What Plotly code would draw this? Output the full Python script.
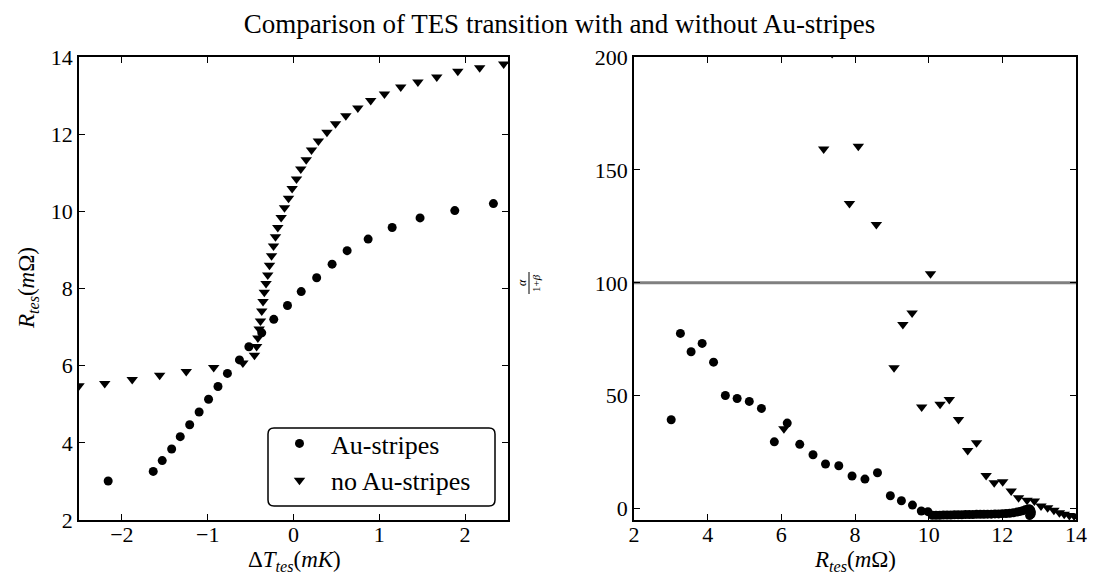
import plotly.graph_objects as go

# ---- Left panel: R_tes vs Delta T ----
au_dT = [-2.16, -1.635, -1.53, -1.42, -1.32, -1.21, -1.10, -0.99, -0.88, -0.77, -0.63, -0.52,
         -0.37, -0.23, -0.07, 0.09, 0.27, 0.45, 0.625, 0.87, 1.15, 1.475, 1.88, 2.33]
au_R = [3.01, 3.26, 3.54, 3.84, 4.16, 4.47, 4.80, 5.13, 5.46, 5.80, 6.15, 6.49,
        6.85, 7.20, 7.56, 7.92, 8.28, 8.63, 8.98, 9.28, 9.58, 9.83, 10.02, 10.20]

no_dT = [-2.5, -2.20, -1.88, -1.56, -1.25, -0.93, -0.59, -0.455, -0.43, -0.415, -0.40, -0.385,
         -0.37, -0.355, -0.34, -0.32, -0.30, -0.28, -0.256, -0.233, -0.21, -0.183, -0.144,
         -0.105, -0.058, -0.016, 0.035, 0.085, 0.148, 0.21, 0.29, 0.39, 0.49, 0.61, 0.75,
         0.90, 1.06, 1.25, 1.45, 1.67, 1.915, 2.17, 2.45]
no_R = [5.48, 5.54, 5.64, 5.75, 5.85, 5.95, 6.07, 6.27, 6.50, 6.72, 6.95, 7.16,
        7.42, 7.66, 7.90, 8.13, 8.35, 8.60, 8.85, 9.10, 9.34, 9.58, 9.84,
        10.09, 10.34, 10.59, 10.84, 11.10, 11.34, 11.59, 11.82, 12.05, 12.27, 12.48, 12.68,
        12.87, 13.04, 13.22, 13.35, 13.48, 13.63, 13.72, 13.82]

# ---- Right panel: alpha/(1+beta) vs R_tes ----
au_Rr = [3.01, 3.26, 3.55, 3.85, 4.16, 4.48, 4.80, 5.13, 5.46, 5.81, 6.16, 6.50, 6.86, 7.20,
         7.56, 7.92, 8.27, 8.61, 8.96, 9.26, 9.56, 9.80, 9.98,
         10.10, 10.20, 10.30, 10.40, 10.50, 10.60, 10.70, 10.80, 10.90, 11.00, 11.10, 11.20,
         11.30, 11.40, 11.50, 11.60, 11.70, 11.80, 11.90, 12.00, 12.10, 12.20, 12.30, 12.40,
         12.48, 12.55, 12.62, 12.68, 12.73, 12.77, 12.79, 12.78, 12.74]
au_ab = [39.4, 77.6, 69.5, 73.2, 64.9, 50.1, 48.8, 47.5, 44.4, 29.6, 37.9, 28.5, 23.9, 19.8,
         19.0, 14.5, 13.1, 15.9, 5.75, 3.5, 1.6, -1.0, -1.3,
         -2.9, -2.9, -2.9, -2.8, -2.8, -2.8, -2.7, -2.7, -2.7, -2.6, -2.6, -2.6,
         -2.5, -2.5, -2.5, -2.4, -2.4, -2.3, -2.3, -2.2, -2.1, -2.0, -1.8, -1.5,
         -1.2, -0.9, -0.5, -0.2, 0.0, -0.5, -1.5, -2.5, -3.0]

no_Rr = [6.07, 7.15, 7.38, 7.85, 8.09, 8.58, 9.06, 9.30, 9.55, 9.81, 10.05, 10.31, 10.56,
         10.81, 11.06, 11.30, 11.56, 11.78, 12.01, 12.24, 12.44, 12.67, 12.87, 13.05, 13.23,
         13.40, 13.55, 13.68, 13.82, 13.95]
no_ab = [35.4, 159.3, 201.5, 135.1, 160.5, 125.8, 62.4, 81.6, 86.7, 45.0, 104.0, 46.2, 48.4,
         39.5, 25.8, 29.2, 14.7, 11.5, 11.9, 7.8, 4.9, 3.7, 3.4, 1.2, 0.4,
         -0.7, -1.8, -2.5, -3.0, -3.2]

ref_level = [100, 100]
ref_x = [2, 14]

FONT = "Liberation Serif"
W, H = 1103, 573
ML, MR, MT, MB = 71, 35, 49, 61
PW = W - ML - MR
PH = H - MT - MB


def px(x):
    return (x - ML) / PW


def py(y):
    return (H - MB - y) / PH


fig = go.Figure()
circ = dict(symbol="circle", size=9, color="black")
tri = dict(symbol="triangle-down", size=10, color="black")

fig.add_trace(go.Scatter(x=au_dT, y=au_R, mode="markers", marker=circ, name="Au-stripes",
                         xaxis="x", yaxis="y"))
fig.add_trace(go.Scatter(x=no_dT, y=no_R, mode="markers", marker=tri, name="no Au-stripes",
                         xaxis="x", yaxis="y"))
fig.add_trace(go.Scatter(x=ref_x, y=ref_level, mode="lines", line=dict(color="#808080", width=3),
                         showlegend=False, xaxis="x2", yaxis="y2"))
fig.add_trace(go.Scatter(x=au_Rr, y=au_ab, mode="markers", marker=circ, showlegend=False,
                         xaxis="x2", yaxis="y2"))
fig.add_trace(go.Scatter(x=no_Rr, y=no_ab, mode="markers", marker=tri, showlegend=False,
                         xaxis="x2", yaxis="y2"))

axis_common = dict(showline=True, linecolor="black", linewidth=1.5, mirror="ticks",
                   ticks="inside", ticklen=6, tickwidth=1.2, tickcolor="black",
                   showgrid=False, zeroline=False,
                   tickfont=dict(family=FONT, size=22, color="black"))

LBL = dict(family=FONT, size=23, color="black")

fig.update_layout(
    width=W, height=H,
    margin=dict(l=ML, r=MR, t=MT, b=MB),
    paper_bgcolor="white", plot_bgcolor="white",
    font=dict(family=FONT, color="black"),
    title=dict(text="Comparison of TES transition with and without Au-stripes",
               x=0.5, xref="container", xanchor="center",
               y=1 - 16 / H, yref="container", yanchor="middle",
               font=dict(family=FONT, size=27, color="black")),
    xaxis=dict(domain=[0, px(500)], range=[-2.5, 2.5], tickvals=[-2, -1, 0, 1, 2],
               ticklabelstandoff=-6, anchor="y", **axis_common),
    yaxis=dict(domain=[0, 1], range=[2, 14], tickvals=[2, 4, 6, 8, 10, 12, 14],
               anchor="x", **axis_common),
    xaxis2=dict(domain=[px(626), 1], range=[2, 14], tickvals=[2, 4, 6, 8, 10, 12, 14],
                ticklabelstandoff=-6, anchor="y2", **axis_common),
    yaxis2=dict(domain=[0, 1], range=[-5, 200], tickvals=[0, 50, 100, 150, 200],
                anchor="x2", **axis_common),
    legend=dict(x=px(260), y=py(412), xanchor="left", yanchor="top",
                borderwidth=0, bgcolor="rgba(0,0,0,0)",
                font=dict(family=FONT, size=26, color="black"),
                itemwidth=53, tracegroupgap=0),
)

# rounded legend frame
x0, x1, y0, y1, r = px(260), px(487), py(420), py(498), 6
rx, ry = r / PW, r / PH
path = (f"M {x0 + rx},{y0} L {x1 - rx},{y0} Q {x1},{y0} {x1},{y0 - ry} "
        f"L {x1},{y1 + ry} Q {x1},{y1} {x1 - rx},{y1} "
        f"L {x0 + rx},{y1} Q {x0},{y1} {x0},{y1 + ry} "
        f"L {x0},{y0 - ry} Q {x0},{y0} {x0 + rx},{y0} Z")
fig.add_shape(type="path", path=path, xref="paper", yref="paper",
              line=dict(color="black", width=1.5), fillcolor="rgba(0,0,0,0)")

# axis titles as annotations (exact placement)
fig.add_annotation(text="Δ<i>T<sub>tes</sub></i>(<i>mK</i>)", x=px(286), y=py(553),
                   xref="paper", yref="paper", showarrow=False, font=LBL,
                   xanchor="center", yanchor="middle")
fig.add_annotation(text="<i>R<sub>tes</sub></i>(<i>m</i>Ω)", x=px(847), y=py(553),
                   xref="paper", yref="paper", showarrow=False, font=LBL,
                   xanchor="center", yanchor="middle")
fig.add_annotation(text="<i>R<sub>tes</sub></i>(<i>m</i>Ω)", x=px(20), y=py(280),
                   xref="paper", yref="paper", showarrow=False, font=LBL, textangle=-90,
                   xanchor="center", yanchor="middle")

# fraction label alpha / (1+beta), rotated
fig.add_annotation(text="<i>α</i>", x=px(514), y=py(275), xref="paper", yref="paper",
                   textangle=-90, showarrow=False, font=dict(family=FONT, size=12))
fig.add_annotation(text="1+<i>β</i>", x=px(528), y=py(275), xref="paper", yref="paper",
                   textangle=-90, showarrow=False, font=dict(family=FONT, size=11))
fig.add_shape(type="line", xref="paper", yref="paper", x0=px(521), x1=px(521),
              y0=py(264), y1=py(286), line=dict(color="black", width=1))

fig.write_html("out.html")
